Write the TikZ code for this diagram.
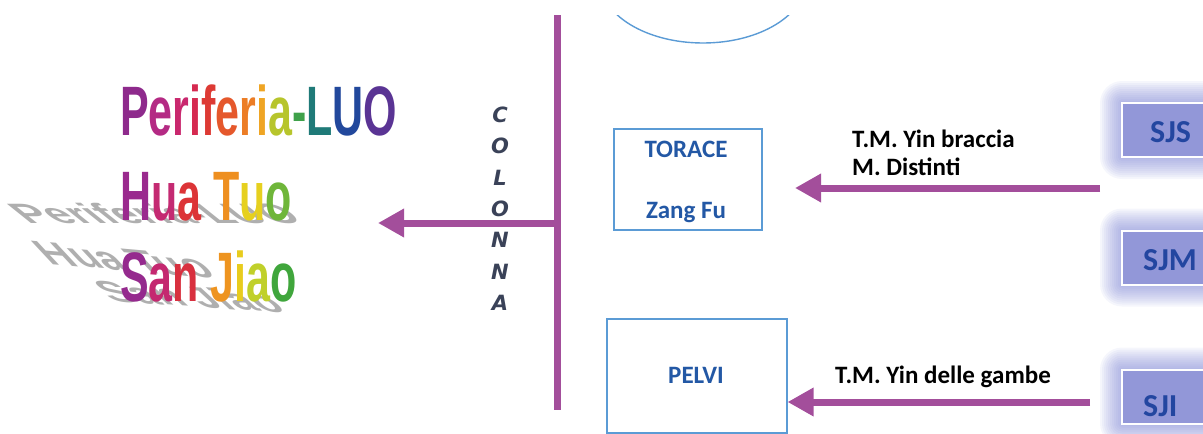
\documentclass[tikz,border=0pt]{standalone}
\usepackage{fontspec}
\setmainfont{Carlito}
\newfontfamily\rbfont[FakeStretch=0.614]{Liberation Sans}
\newfontfamily\colfont{DejaVu Sans}
\usetikzlibrary{arrows.meta,shapes.geometric}
\definecolor{vio}{RGB}{163,78,155}
\definecolor{bluetxt}{RGB}{35,88,165}
\definecolor{boxline}{RGB}{91,155,213}
\definecolor{sjfill}{RGB}{146,151,216}
\definecolor{sjglow}{RGB}{120,128,210}
\definecolor{sjtxt}{RGB}{35,70,160}
\definecolor{coltxt}{RGB}{58,66,88}
\definecolor{shd}{RGB}{175,175,175}
\newcommand\rbl[2]{{\color[HTML]{#1}#2}}
\begin{document}
\begin{tikzpicture}[x=1pt,y=-1pt,
  bar/.style={draw=vio, line width=7pt},
  conn/.style={draw=vio, line width=7pt, -{Triangle[length=26pt,width=27pt]}},
  organ/.style={draw=boxline, line width=1.1pt, fill=white, inner sep=0},
  bluelbl/.style={text=bluetxt, font=\fontsize{25}{25}\selectfont\bfseries, inner sep=0, anchor=base},
  blacklbl/.style={text=black, font=\fontsize{25}{25}\selectfont\bfseries, inner sep=0, anchor=base west},
  sjbox/.style={fill=sjfill, draw=white, line width=2pt, minimum height=54pt, minimum width=118pt, inner sep=0},
  sjlbl/.style={text=sjtxt, font=\fontsize{32}{32}\selectfont\bfseries, inner sep=0, anchor=base west},
  colletter/.style={text=coltxt, font=\colfont\fontsize{21}{21}\selectfont\bfseries\itshape, inner sep=0},
  rb/.style={font=\rbfont\fontsize{70}{70}\selectfont\bfseries, inner sep=0, anchor=base west},
  shadowtxt/.style={rb, text=shd, transform shape}]
\useasboundingbox (0,0) rectangle (1203,434);

% top ellipse (cut by the top margin)
\begin{scope}
  \clip (0,15) rectangle (1203,434);
  \node[ellipse, draw=boxline, line width=1.4pt, minimum width=206pt, minimum height=126pt] (head) at (703,-20) {};
\end{scope}

% grey perspective shadows of the rainbow text
\begin{scope}[shift={(28,223)}, yscale=0.4, xslant=-0.5]
  \node[shadowtxt] (sh1) at (0,0) {Periferia-LUO};
\end{scope}
\begin{scope}[shift={(50,264)}, rotate=-5, yscale=0.45, xslant=-0.5]
  \node[shadowtxt] (sh2) at (0,0) {Hua Tuo};
\end{scope}
\begin{scope}[shift={(112,301)}, rotate=-4, yscale=0.4, xslant=-0.5]
  \node[shadowtxt] (sh3) at (0,0) {San Jiao};
\end{scope}

% rainbow text
\node[rb] (luo) at (120,135) {\rbl{8E2A8C}{P}\rbl{B42A84}{e}\rbl{C9286E}{r}\rbl{D52A50}{i}\rbl{DD3A34}{f}\rbl{E5582C}{e}\rbl{EC7D26}{r}\rbl{EFA524}{i}\rbl{B7C52C}{a}\rbl{3FA14A}{-}\rbl{1F7A78}{L}\rbl{22489C}{U}\rbl{5A3494}{O}};
\node[rb] (hua) at (120,220) {\rbl{9A2A8E}{H}\rbl{C42A72}{u}\rbl{DC3437}{a} \rbl{EE8F20}{T}\rbl{E6D01F}{u}\rbl{6FB63A}{o}};
\node[rb] (sanj) at (120,301) {\rbl{952A8E}{S}\rbl{C42870}{a}\rbl{D8303F}{n} \rbl{EE9420}{J}\rbl{E8CC1E}{i}\rbl{C0D02A}{a}\rbl{40A63C}{o}};

% column
\coordinate (ct) at (557,15);
\coordinate (cb) at (557,410);
\coordinate (cm) at (557,223);
\coordinate (lt) at (378,223);
\draw[bar] (ct) -- (cb);
\draw[conn] (cm) -- (lt);
\foreach \l [count=\i from 0] in {C,O,L,O,N,N,A}
  \node[colletter] (col\i) at (500,115+31.3*\i) {\l};

% organ boxes
\node[organ, minimum width=148pt, minimum height=101pt] (torace) at (688,179.5) {};
\node[bluelbl] (tortxt) at (686,157) {TORACE};
\node[bluelbl] (zangfu) at (686,218) {Zang Fu};
\node[organ, minimum width=180pt, minimum height=114pt] (pelvi) at (697,376) {};
\node[bluelbl] (pelvitxt) at (696,383) {PELVI};

% San Jiao boxes with glow
\begin{scope}
  \clip (0,0) rectangle (1203,434);
  \foreach \cy/\nm in {130/sjs, 257.5/sjm, 396.5/sji} {
    \foreach \d in {2,4,...,22}
      \fill[sjglow, fill opacity=0.07, rounded corners=\d pt] (1122-\d,\cy-27-\d) rectangle (1250+\d,\cy+27+\d);
    \node[sjbox] (\nm) at (1181,\cy) {};
  }
  \node[sjlbl] (sjstxt) at (1150,142) {SJS};
  \node[sjlbl] (sjmtxt) at (1143,270) {SJM};
  \node[sjlbl] (sjitxt) at (1143,416) {SJI};
\end{scope}

% arrows from the right
\coordinate (a1s) at (1100,188);
\coordinate (a1e) at (795,188);
\draw[conn] (a1s) -- (a1e);
\coordinate (a2s) at (1090,402);
\draw[conn] (a2s) -- (a2s -| pelvi.east);

\node[blacklbl] (braccia) at (852,147) {T.M. Yin braccia};
\node[blacklbl] (distinti) at (852,175) {M. Distinti};
\node[blacklbl] (gambe) at (835,383) {T.M. Yin delle gambe};
\end{tikzpicture}
\end{document}
